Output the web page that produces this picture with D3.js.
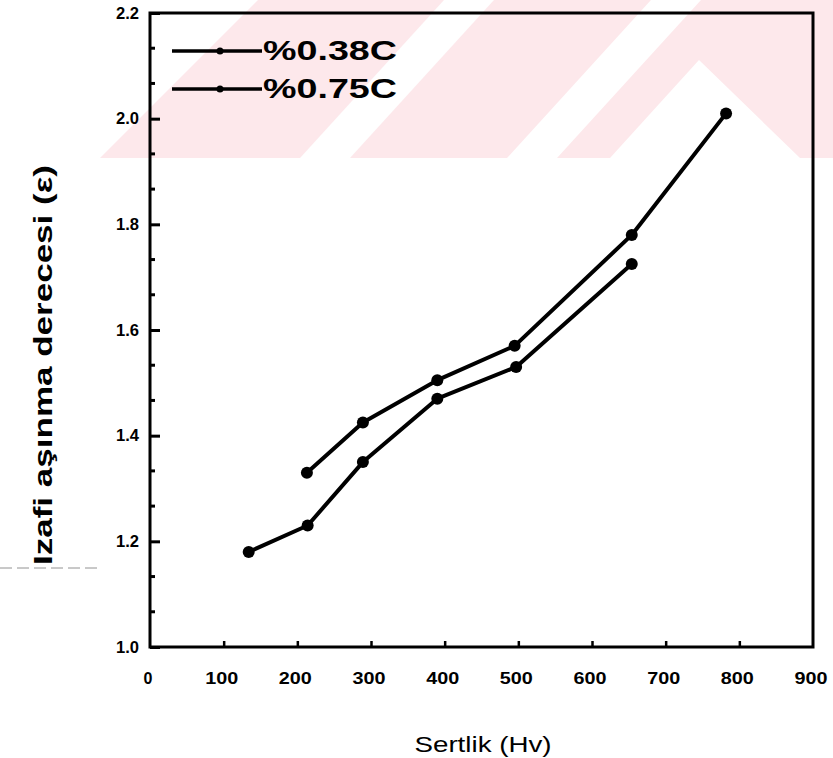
<!DOCTYPE html>
<html>
<head>
<meta charset="utf-8">
<title>Izafi aşınma derecesi - Sertlik</title>
<script src="https://cdn.jsdelivr.net/npm/d3@7"></script>
<style>
  body { margin: 0; background: #fff; }
  svg { display: block; }
  text { font-family: "Liberation Sans", Arial, sans-serif; fill: #000; }
</style>
</head>
<body>
<svg id="chart" width="833" height="758"></svg>
<script>
// Series data
const seriesNames = ["%0.38C", "%0.75C"];
const hardness038 = [134, 214, 289, 390, 497, 654];
const wear038 = [1.18, 1.23, 1.35, 1.47, 1.53, 1.725];
const hardness075 = [213, 289, 390, 495, 654, 782];
const wear075 = [1.33, 1.425, 1.505, 1.57, 1.78, 2.01];

// Axis ticks
const xTicks = [0, 100, 200, 300, 400, 500, 600, 700, 800, 900];
const xTickLabels = ["0", "100", "200", "300", "400", "500", "600", "700", "800", "900"];
const yTicks = [1.0, 1.2, 1.4, 1.6, 1.8, 2.0, 2.2];
const yTickLabels = ["1.0", "1.2", "1.4", "1.6", "1.8", "2.0", "2.2"];

const svg = d3.select("#chart");
const width = 833, height = 758;
const margin = { top: 13, right: 20, bottom: 111, left: 150 };

const x = d3.scaleLinear().domain([0, 900]).range([margin.left, width - margin.right]);
const y = d3.scaleLinear().domain([1.0, 2.2]).range([height - margin.bottom, margin.top]);

// faint pink watermark in the upper band
svg.append("clipPath").attr("id", "band")
  .append("rect").attr("x", 0).attr("y", 0).attr("width", width).attr("height", 158);
const wm = svg.append("g").attr("fill", "#fde8eb").attr("clip-path", "url(#band)");
wm.append("polygon").attr("points", "100,158 258,0 833,0 833,158");
const wmWhite = wm.append("g").attr("fill", "#fff");
wmWhite.append("polygon").attr("points", "507,158 557,158 701,0 651,0");
wmWhite.append("polygon").attr("points", "699,60 610,158 800,158");
wmWhite.append("polygon").attr("points", "300,158 350,158 494,0 444,0");

// scan artefact at left
svg.append("line")
  .attr("x1", 0).attr("x2", 100).attr("y1", 568).attr("y2", 568)
  .attr("stroke", "#777").attr("stroke-width", 0.8).attr("stroke-dasharray", "12,5");

// frame
svg.append("rect")
  .attr("x", x(0)).attr("y", y(2.2))
  .attr("width", x(900) - x(0)).attr("height", y(1.0) - y(2.2))
  .attr("fill", "none").attr("stroke", "#000").attr("stroke-width", 3);

// y axis, ticks pointing inward
const yAxis = d3.axisRight(y)
  .tickValues(yTicks)
  .tickSize(10)
  .tickFormat("");
const gy = svg.append("g").attr("transform", `translate(${x(0)},0)`).call(yAxis);
gy.select(".domain").remove();
gy.selectAll(".tick line").attr("stroke", "#000").attr("stroke-width", 3);

const minorY = d3.range(1.0, 2.2, 0.2 / 3).filter((v, i) => i % 3 !== 0);
svg.append("g").selectAll("line").data(minorY).join("line")
  .attr("x1", x(0)).attr("x2", x(0) + 5)
  .attr("y1", d => y(d)).attr("y2", d => y(d))
  .attr("stroke", "#000").attr("stroke-width", 3);

svg.append("g").selectAll("text").data(yTicks).join("text")
  .attr("x", x(0) - 11)
  .attr("y", d => y(d))
  .attr("dy", "0.35em")
  .attr("text-anchor", "end")
  .attr("font-size", 16)
  .attr("font-weight", "bold")
  .attr("textLength", 23)
  .attr("lengthAdjust", "spacingAndGlyphs")
  .text((d, i) => yTickLabels[i]);

// x axis ticks and labels
const xAxis = d3.axisTop(x)
  .tickValues(xTicks.slice(1, -1))
  .tickSize(6)
  .tickFormat("");
const gx = svg.append("g").attr("transform", `translate(0,${y(1.0)})`).call(xAxis);
gx.select(".domain").remove();
gx.selectAll(".tick line").attr("stroke", "#000").attr("stroke-width", 2.5);

svg.append("g").selectAll("text").data(xTicks).join("text")
  .attr("x", d => x(d) - 2)
  .attr("y", y(1.0) + 37)
  .attr("text-anchor", "middle")
  .attr("font-size", 16)
  .attr("font-weight", "bold")
  .each(function (d, i) {
    const t = d3.select(this).text(xTickLabels[i]);
    if (xTickLabels[i].length > 1) t.attr("textLength", 33).attr("lengthAdjust", "spacingAndGlyphs");
  });

// axis titles
svg.append("text")
  .attr("x", 483)
  .attr("y", 752)
  .attr("text-anchor", "middle")
  .attr("font-size", 22)
  .attr("textLength", 137)
  .attr("lengthAdjust", "spacingAndGlyphs")
  .text("Sertlik (Hv)");

svg.append("text")
  .attr("transform", `translate(52,365) rotate(-90)`)
  .attr("text-anchor", "middle")
  .attr("font-size", 25)
  .attr("font-weight", "bold")
  .attr("textLength", 400)
  .attr("lengthAdjust", "spacingAndGlyphs")
  .text("Izafi aşınma derecesi  (ε)");

// series
const series = [
  { name: seriesNames[0], xs: hardness038, ys: wear038 },
  { name: seriesNames[1], xs: hardness075, ys: wear075 }
];
const line = d3.line().x(d => x(d[0])).y(d => y(d[1]));

series.forEach(s => {
  const pts = s.xs.map((v, i) => [v, s.ys[i]]);
  svg.append("path")
    .datum(pts)
    .attr("d", line)
    .attr("fill", "none")
    .attr("stroke", "#000")
    .attr("stroke-width", 4)
    .attr("stroke-linejoin", "round");
  svg.append("g").selectAll("circle").data(pts).join("circle")
    .attr("cx", d => x(d[0]))
    .attr("cy", d => y(d[1]))
    .attr("r", 6)
    .attr("fill", "#000");
});

// legend
const legend = svg.append("g");
series.forEach((s, i) => {
  const ly = 51 + i * 38;
  legend.append("line")
    .attr("x1", 172).attr("x2", 262).attr("y1", ly).attr("y2", ly)
    .attr("stroke", "#000").attr("stroke-width", 3.5);
  legend.append("circle").attr("cx", 220).attr("cy", ly).attr("r", 3.5).attr("fill", "#000");
  legend.append("text")
    .attr("x", 263).attr("y", ly + 9)
    .attr("font-size", 27)
    .attr("font-weight", "bold")
    .attr("textLength", 134)
    .attr("lengthAdjust", "spacingAndGlyphs")
    .text(s.name);
});
</script>
</body>
</html>
